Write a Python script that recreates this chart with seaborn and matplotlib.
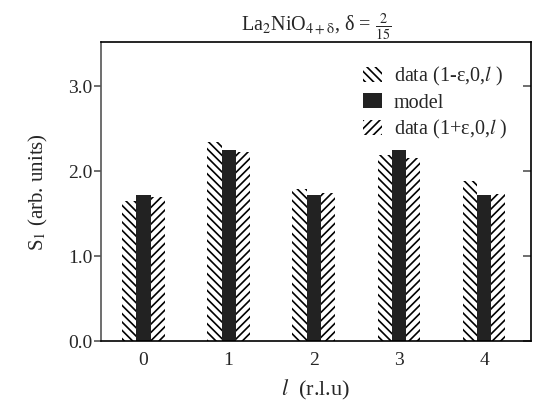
import matplotlib
matplotlib.use("Agg")
import matplotlib.pyplot as plt
import seaborn as sns
from matplotlib.patches import Patch
from matplotlib.ticker import FormatStrFormatter
from pandas import DataFrame

# data
l_values = [0, 1, 2, 3, 4]
data_minus = [1.65, 2.34, 1.79, 2.19, 1.88]
model = [1.72, 2.25, 1.72, 2.25, 1.72]
data_plus = [1.69, 2.22, 1.74, 2.15, 1.73]

series_names = ["data (1-ε,0,$\\mathit{l}$ )", "model", "data (1+ε,0,$\\mathit{l}$ )"]

rows = []
for name, vals in zip(series_names, [data_minus, model, data_plus]):
    for l, v in zip(l_values, vals):
        rows.append({"l": l, "S": v, "series": name})
df = DataFrame(rows)

sns.set_style("ticks")
plt.rcParams["font.family"] = ["Liberation Serif", "DejaVu Serif"]
plt.rcParams["mathtext.fontset"] = "stix"
plt.rcParams["hatch.linewidth"] = 1.2

fig = plt.figure(figsize=(5.4, 4.11), dpi=100)
ax = fig.add_axes([0.187, 0.170, 0.796, 0.728])

palette = {series_names[0]: "white", series_names[1]: "#222222", series_names[2]: "white"}
sns.barplot(data=df, x="l", y="S", hue="series", hue_order=series_names,
            palette=palette, width=0.5, gap=0, saturation=1, legend=False, ax=ax)

hatch_l = "\\\\\\\\"
hatch_r = "////"
hatches = [hatch_l, None, hatch_r]
for cont, h in zip(ax.containers, hatches):
    for p in cont.patches:
        p.set_linewidth(0)
        p.set_edgecolor("black")
        if h:
            p.set_hatch(h)

ax.set_xlim(-0.5, 4.55)
ax.set_ylim(0, 3.52)
ax.set_yticks([0, 1, 2, 3])
ax.yaxis.set_major_formatter(FormatStrFormatter("%.1f"))

for s in ax.spines.values():
    s.set_linewidth(1.2)
    s.set_color("black")
ax.spines["left"].set_color("#555555")

ax.tick_params(axis="x", length=0, labelsize=14, pad=8)
ax.tick_params(axis="y", direction="out", length=5, width=1.2, color="#555555",
               labelsize=14, pad=1, right=True, labelright=False)
# right side ticks point inward
for t in ax.yaxis.get_major_ticks():
    t.tick2line.set_marker(0)  # TICKLEFT
    t.tick2line.set_markersize(6)
    t.tick2line.set_color("black")

ax.set_xlabel("$\\mathit{l}$  (r.l.u)", fontsize=16, labelpad=6)
ax.set_ylabel("S$_1$ (arb. units)", fontsize=15, labelpad=13)
ax.set_title("La$_2$NiO$_{4+\\mathrm{δ}}$, δ = $\\frac{2}{15}$", fontsize=14.5, pad=8)

handles = [
    Patch(facecolor="white", edgecolor="black", linewidth=0, hatch=hatch_l),
    Patch(facecolor="#222222", edgecolor="#222222", linewidth=0),
    Patch(facecolor="white", edgecolor="black", linewidth=0, hatch=hatch_r),
]
ax.legend(handles, series_names, loc="upper right", frameon=False, fontsize=14.5,
          handlelength=0.93, handleheight=0.78, handletextpad=0.6,
          labelspacing=0.25, borderaxespad=0.75)

fig.savefig("out.png", dpi=100)
plt.close(fig)
